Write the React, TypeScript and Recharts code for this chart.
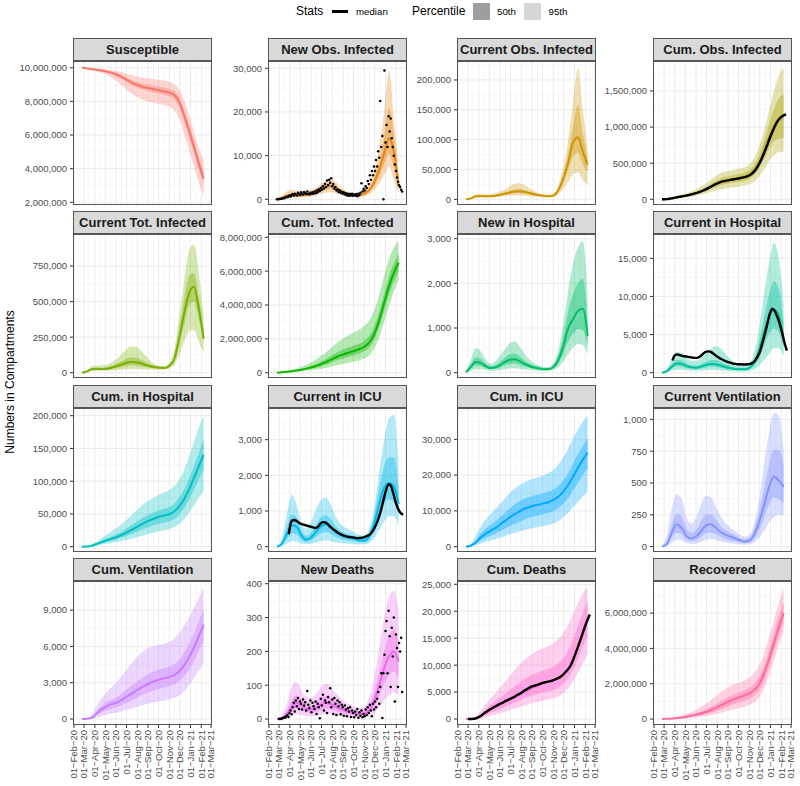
import React from "react";
import { ComposedChart, Area, Line, Scatter, XAxis, YAxis, CartesianGrid } from "recharts";

const FONT = '"Liberation Sans", Arial, Helvetica, sans-serif';
const DAY = 86400000;
const toT = (s: string) => Date.parse(s + "T00:00:00Z");

// model output dates (every two weeks)
const MODEL_DATES = [
  "2020-02-24", "2020-03-09", "2020-03-23", "2020-04-06", "2020-04-20", "2020-05-04", "2020-05-18",
  "2020-06-01", "2020-06-15", "2020-06-29", "2020-07-13", "2020-07-27", "2020-08-10", "2020-08-24",
  "2020-09-07", "2020-09-21", "2020-10-05", "2020-10-19", "2020-11-02", "2020-11-16", "2020-11-30",
  "2020-12-14", "2020-12-28", "2021-01-11", "2021-01-25", "2021-02-08",
];

const MONTH_TICKS = [
  "2020-02-01", "2020-03-01", "2020-04-01", "2020-05-01", "2020-06-01", "2020-07-01", "2020-08-01",
  "2020-09-01", "2020-10-01", "2020-11-01", "2020-12-01", "2021-01-01", "2021-02-01", "2021-03-01",
];
const MONTH_NAMES = ["Jan", "Feb", "Mar", "Apr", "May", "Jun", "Jul", "Aug", "Sep", "Oct", "Nov", "Dec"];

// ---- Susceptible
const SUS_MED = [10.0e6, 9.96e6, 9.92e6, 9.88e6, 9.84e6, 9.78e6, 9.70e6, 9.60e6, 9.47e6, 9.31e6, 9.15e6, 9.01e6, 8.91e6, 8.83e6, 8.77e6, 8.71e6, 8.65e6, 8.59e6, 8.52e6, 8.36e6, 7.95e6, 7.15e6, 6.25e6, 5.3e6, 4.3e6, 3.4e6];
const SUS_LO50 = [10.0e6, 9.95e6, 9.90e6, 9.85e6, 9.80e6, 9.73e6, 9.63e6, 9.51e6, 9.36e6, 9.18e6, 9.0e6, 8.84e6, 8.73e6, 8.64e6, 8.57e6, 8.51e6, 8.45e6, 8.38e6, 8.30e6, 8.1e6, 7.65e6, 6.8e6, 5.88e6, 4.93e6, 3.95e6, 3.1e6];
const SUS_HI50 = [10.0e6, 9.97e6, 9.94e6, 9.91e6, 9.88e6, 9.83e6, 9.77e6, 9.69e6, 9.58e6, 9.44e6, 9.3e6, 9.18e6, 9.09e6, 9.02e6, 8.97e6, 8.91e6, 8.85e6, 8.8e6, 8.74e6, 8.6e6, 8.25e6, 7.5e6, 6.62e6, 5.68e6, 4.68e6, 3.8e6];
const SUS_LO95 = [9.99e6, 9.93e6, 9.86e6, 9.78e6, 9.7e6, 9.58e6, 9.42e6, 9.22e6, 8.99e6, 8.74e6, 8.5e6, 8.3e6, 8.15e6, 8.04e6, 7.96e6, 7.9e6, 7.84e6, 7.77e6, 7.68e6, 7.45e6, 6.95e6, 6.05e6, 5.1e6, 4.1e6, 3.15e6, 2.4e6];
const SUS_HI95 = [10.0e6, 9.99e6, 9.97e6, 9.95e6, 9.93e6, 9.9e6, 9.86e6, 9.81e6, 9.74e6, 9.66e6, 9.57e6, 9.5e6, 9.44e6, 9.39e6, 9.35e6, 9.31e6, 9.27e6, 9.22e6, 9.15e6, 9.0e6, 8.7e6, 8.05e6, 7.2e6, 6.2e6, 5.2e6, 4.5e6];

// ---- New Obs. Infected
const NOI_MED = [50, 300, 800, 1000, 900, 900, 1000, 1200, 1600, 2200, 2800, 3100, 2600, 1800, 1300, 1000, 900, 950, 1300, 2200, 4000, 6800, 10500, 14000, 11000, 3000];
const NOI_LO50 = [30, 200, 550, 700, 650, 650, 750, 900, 1250, 1700, 2200, 2400, 2000, 1450, 1050, 800, 720, 750, 1000, 1700, 3100, 5200, 8000, 10500, 7500, 2200];
const NOI_HI50 = [70, 450, 1100, 1400, 1250, 1150, 1250, 1500, 2000, 2700, 3400, 3700, 3100, 2200, 1600, 1250, 1100, 1200, 1700, 2800, 5000, 8500, 14000, 21000, 15000, 4500];
const NOI_LO95 = [0, 100, 300, 400, 400, 450, 550, 650, 850, 1200, 1500, 1700, 1400, 1000, 750, 600, 550, 550, 700, 1200, 2200, 3600, 5500, 7500, 4500, 1300];
const NOI_HI95 = [100, 800, 1800, 2200, 2000, 1800, 1900, 2200, 2700, 3500, 4300, 4600, 4000, 2900, 2100, 1600, 1400, 1600, 2400, 3500, 6500, 12000, 20000, 29500, 19000, 6000];
// observed daily cases, every third day from 2020-02-24
const NOI_OBS = [
  0, 20, 50, 80, 150, 200, 300, 250, 450, 600,
  500, 700, 900, 650, 1000, 1200, 800, 1300, 1100, 900,
  1500, 1200, 1000, 1600, 1300, 1100, 1700, 1400, 1200, 1800,
  1300, 1100, 1500, 1250, 1600, 1300, 1800, 1400, 2000, 1600,
  2300, 1900, 2600, 2200, 3000, 2500, 3500, 2800, 4300, 3300,
  4500, 3800, 4800, 3000, 3500, 2400, 2800, 2000, 2300, 1700,
  2100, 1500, 1800, 1300, 1600, 1100, 1400, 900, 1300, 800,
  1200, 900, 1300, 800, 1100, 900, 1200, 700, 1300, 1000,
  1500, 3700, 1800, 2400, 2000, 3000, 2600, 4200, 3500, 5500,
  4500, 6500, 5500, 7500, 6500, 9000, 7500, 11000, 9500, 22500,
  12000, 14500, 0, 29500, 13000, 17000, 12000, 19000, 15500, 18500,
  14000, 12000, 10000, 8000, 6500, 5000, 4000, 3200, 2800, 2200,
  1800,
];

// ---- Current Obs. Infected
const COI_MED = [0, 1500, 5000, 5500, 5000, 5200, 6000, 7500, 9500, 11500, 13000, 13500, 12500, 10500, 8500, 7000, 5800, 5000, 6500, 16000, 35000, 62000, 95000, 104000, 80000, 58000];
const COI_LO50 = [0, 1200, 4000, 4500, 4100, 4200, 4800, 6000, 7600, 9000, 10000, 10200, 9500, 8200, 6800, 5700, 4800, 4200, 5300, 13000, 28000, 50000, 72000, 78000, 58000, 45000];
const COI_HI50 = [0, 1800, 6000, 6500, 6000, 6300, 7300, 9200, 11800, 14500, 16500, 17000, 15500, 13000, 10500, 8600, 7000, 6000, 7800, 19000, 42000, 76000, 122000, 158000, 110000, 70000];
const COI_LO95 = [0, 700, 2800, 3200, 3000, 3100, 3500, 4300, 5200, 6000, 6500, 6500, 6000, 5000, 4300, 3700, 3300, 3000, 3800, 9000, 18000, 30000, 42000, 45000, 32000, 25000];
const COI_HI95 = [0, 2500, 8000, 8500, 8000, 8500, 10000, 13000, 17000, 22000, 26000, 27000, 24000, 19000, 14000, 10500, 8500, 7500, 10000, 25000, 55000, 100000, 165000, 220000, 150000, 85000];

// ---- Cum. Obs. Infected
const CUI_MED = [0, 5000, 15000, 28000, 40000, 52000, 68000, 88000, 110000, 140000, 175000, 210000, 238000, 258000, 272000, 285000, 298000, 315000, 345000, 410000, 520000, 680000, 860000, 1010000, 1110000, 1160000];
const CUI_LO50 = [0, 4000, 12000, 22000, 32000, 42000, 55000, 71000, 89000, 113000, 141000, 170000, 193000, 209000, 221000, 232000, 243000, 258000, 285000, 340000, 430000, 560000, 700000, 800000, 840000, 850000];
const CUI_HI50 = [0, 6000, 19000, 34000, 49000, 64000, 83000, 107000, 134000, 170000, 212000, 254000, 288000, 311000, 326000, 339000, 352000, 372000, 408000, 485000, 620000, 810000, 1040000, 1250000, 1400000, 1450000];
const CUI_LO95 = [0, 2500, 8000, 15000, 22000, 29000, 38000, 50000, 63000, 80000, 100000, 120000, 138000, 150000, 160000, 168000, 177000, 190000, 210000, 250000, 320000, 420000, 530000, 610000, 650000, 660000];
const CUI_HI95 = [0, 8000, 25000, 45000, 65000, 85000, 110000, 140000, 175000, 220000, 270000, 320000, 360000, 385000, 400000, 412000, 425000, 445000, 490000, 580000, 740000, 960000, 1230000, 1500000, 1720000, 1810000];
// observed, weekly from 2020-02-24
const CUI_OBS = [
  0, 1000, 3000, 7000, 13000, 20000, 27000, 33000, 39000, 45000,
  51000, 58000, 66000, 75000, 85000, 96000, 108000, 122000, 137000, 154000,
  173000, 192000, 210000, 225000, 237000, 247000, 255000, 262000, 268000, 274000,
  280000, 286000, 292000, 299000, 307000, 318000, 333000, 355000, 390000, 435000,
  495000, 565000, 645000, 730000, 820000, 905000, 985000, 1055000, 1105000, 1140000,
  1162000, 1175000,
];

// ---- Current Tot. Infected
const CTI_MED = [0, 8000, 25000, 27000, 26000, 28000, 35000, 45000, 57000, 68000, 75000, 74000, 66000, 55000, 45000, 38000, 34000, 33000, 50000, 100000, 250000, 420000, 560000, 605000, 450000, 240000];
const CTI_LO50 = [0, 6000, 19000, 21000, 20000, 21000, 25000, 31000, 38000, 45000, 50000, 50000, 46000, 40000, 35000, 31000, 29000, 28000, 42000, 80000, 200000, 340000, 470000, 500000, 380000, 210000];
const CTI_HI50 = [0, 10000, 32000, 35000, 34000, 37000, 47000, 62000, 80000, 97000, 108000, 106000, 93000, 75000, 59000, 48000, 41000, 39000, 60000, 125000, 310000, 520000, 680000, 700000, 530000, 300000];
const CTI_LO95 = [0, 4000, 12000, 13000, 13000, 14000, 16000, 18000, 21000, 24000, 26000, 26000, 25000, 23000, 22000, 21000, 21000, 22000, 30000, 55000, 130000, 220000, 290000, 300000, 220000, 140000];
const CTI_HI95 = [0, 15000, 45000, 50000, 50000, 55000, 70000, 95000, 125000, 160000, 185000, 185000, 160000, 120000, 85000, 60000, 48000, 45000, 75000, 170000, 400000, 650000, 860000, 900000, 700000, 400000];

// ---- Cum. Tot. Infected
const CTO_MED = [0, 0.02e6, 0.05e6, 0.09e6, 0.13e6, 0.18e6, 0.24e6, 0.31e6, 0.4e6, 0.5e6, 0.62e6, 0.76e6, 0.9e6, 1.02e6, 1.12e6, 1.21e6, 1.3e6, 1.4e6, 1.55e6, 1.8e6, 2.3e6, 3.1e6, 4.1e6, 5.1e6, 5.9e6, 6.5e6];
const CTO_LO50 = [0, 0.015e6, 0.04e6, 0.07e6, 0.1e6, 0.14e6, 0.18e6, 0.23e6, 0.3e6, 0.38e6, 0.47e6, 0.58e6, 0.7e6, 0.8e6, 0.89e6, 0.97e6, 1.05e6, 1.14e6, 1.28e6, 1.5e6, 1.95e6, 2.7e6, 3.65e6, 4.6e6, 5.4e6, 6.0e6];
const CTO_HI50 = [0, 0.03e6, 0.07e6, 0.12e6, 0.17e6, 0.23e6, 0.31e6, 0.41e6, 0.52e6, 0.65e6, 0.8e6, 0.98e6, 1.15e6, 1.3e6, 1.42e6, 1.52e6, 1.62e6, 1.73e6, 1.9e6, 2.2e6, 2.75e6, 3.6e6, 4.65e6, 5.65e6, 6.45e6, 7.0e6];
const CTO_LO95 = [0, 0.01e6, 0.02e6, 0.04e6, 0.06e6, 0.08e6, 0.11e6, 0.14e6, 0.18e6, 0.22e6, 0.28e6, 0.35e6, 0.42e6, 0.49e6, 0.55e6, 0.61e6, 0.67e6, 0.74e6, 0.85e6, 1.05e6, 1.45e6, 2.1e6, 3.0e6, 3.9e6, 4.8e6, 5.5e6];
const CTO_HI95 = [0, 0.04e6, 0.1e6, 0.17e6, 0.25e6, 0.35e6, 0.47e6, 0.61e6, 0.78e6, 0.97e6, 1.2e6, 1.45e6, 1.7e6, 1.92e6, 2.1e6, 2.25e6, 2.4e6, 2.56e6, 2.78e6, 3.1e6, 3.7e6, 4.6e6, 5.7e6, 6.7e6, 7.4e6, 7.8e6];

// ---- New in Hospital
const NHO_MED = [10, 130, 240, 220, 150, 105, 120, 170, 240, 290, 300, 260, 200, 150, 115, 95, 80, 80, 130, 290, 600, 1000, 1200, 1380, 1430, 820];
const NHO_LO50 = [5, 90, 160, 150, 105, 75, 82, 115, 165, 195, 205, 180, 140, 110, 85, 70, 60, 60, 100, 215, 430, 700, 870, 980, 950, 600];
const NHO_HI50 = [15, 190, 340, 310, 210, 145, 165, 240, 340, 410, 430, 370, 280, 205, 155, 125, 105, 105, 175, 400, 820, 1380, 1750, 2000, 2100, 1150];
const NHO_LO95 = [0, 40, 80, 80, 60, 45, 45, 60, 80, 95, 100, 90, 75, 60, 50, 45, 40, 40, 60, 130, 250, 420, 560, 640, 620, 400];
const NHO_HI95 = [20, 300, 550, 480, 300, 200, 250, 380, 530, 660, 700, 590, 430, 300, 210, 160, 130, 130, 220, 520, 1100, 1850, 2450, 2800, 2950, 1700];

// ---- Current in Hospital
const CHO_MED = [0, 200, 800, 1200, 1150, 900, 700, 650, 800, 1000, 1150, 1100, 950, 750, 600, 500, 450, 450, 650, 1400, 3000, 5300, 7400, 8300, 7500, 4500];
const CHO_LO50 = [0, 130, 530, 800, 780, 610, 480, 450, 540, 670, 780, 740, 640, 510, 410, 340, 310, 310, 450, 950, 2000, 3600, 5100, 5800, 5300, 3200];
const CHO_HI50 = [0, 280, 1100, 1650, 1600, 1250, 980, 920, 1120, 1420, 1650, 1650, 1450, 1150, 900, 730, 650, 630, 880, 1900, 4100, 7300, 10300, 12000, 11000, 6500];
const CHO_LO95 = [0, 60, 250, 400, 400, 320, 260, 240, 280, 330, 370, 350, 300, 250, 200, 170, 150, 150, 220, 450, 950, 1700, 2500, 3200, 3200, 2200];
const CHO_HI95 = [0, 450, 1800, 2700, 2600, 2000, 1600, 1550, 1900, 2500, 3100, 3500, 3200, 2500, 1800, 1300, 1050, 950, 1300, 2800, 6000, 10500, 14500, 17000, 15000, 9000];
// observed, weekly from 2020-03-25
const CHO_OBS = [
  1600, 2300, 2400, 2300, 2200, 2150, 2100, 2050, 2000, 1950,
  1950, 2050, 2300, 2600, 2750, 2800, 2700, 2450, 2200, 2000,
  1800, 1650, 1500, 1400, 1300, 1200, 1150, 1100, 1100, 1080,
  1080, 1100, 1150, 1300, 1600, 2100, 2800, 3900, 5100, 6400,
  7700, 8400, 8100, 7400, 6500, 5300, 4000, 2900,
];

// ---- Cum. in Hospital
const CUH_MED = [0, 300, 1500, 4000, 7000, 9500, 12000, 14500, 17500, 21000, 25000, 29000, 33000, 37000, 40500, 43500, 46000, 48000, 50000, 54000, 62000, 73000, 88000, 105000, 123000, 140000];
const CUH_LO50 = [0, 200, 1100, 3000, 5200, 7200, 9000, 11000, 13500, 16000, 19000, 22000, 25000, 28000, 31000, 33500, 35500, 37000, 39000, 42000, 49000, 59000, 72000, 87000, 103000, 117000];
const CUH_HI50 = [0, 400, 2000, 5200, 9000, 12500, 15500, 18500, 22500, 27000, 32000, 37000, 42000, 46500, 50000, 53000, 56000, 58500, 61000, 66000, 75000, 88000, 104000, 123000, 143000, 165000];
const CUH_LO95 = [0, 100, 600, 1800, 3200, 4500, 5800, 7000, 8500, 10000, 12000, 14000, 16000, 18000, 20000, 22000, 24000, 25500, 27000, 30000, 35000, 42000, 52000, 63000, 75000, 86000];
const CUH_HI95 = [0, 600, 3000, 7500, 13000, 18000, 23000, 28000, 34000, 40000, 47000, 54000, 61000, 67000, 72000, 76000, 80000, 83000, 87000, 93000, 103000, 118000, 138000, 160000, 182000, 200000];

// ---- Current in ICU
const CIC_MED = [0, 80, 350, 600, 560, 320, 200, 260, 420, 570, 630, 560, 420, 330, 280, 250, 220, 170, 170, 300, 650, 1200, 1650, 1780, 1700, 1200];
const CIC_LO50 = [0, 50, 220, 380, 350, 200, 130, 170, 280, 380, 420, 370, 280, 225, 190, 170, 150, 115, 115, 200, 450, 850, 1200, 1320, 1250, 880];
const CIC_HI50 = [5, 130, 550, 900, 820, 470, 300, 390, 620, 820, 880, 780, 580, 450, 380, 340, 300, 240, 230, 420, 900, 1650, 2250, 2500, 2500, 1650];
const CIC_LO95 = [0, 20, 80, 150, 140, 90, 70, 80, 120, 160, 180, 160, 120, 100, 90, 80, 70, 60, 65, 110, 250, 480, 700, 850, 850, 600];
const CIC_HI95 = [10, 250, 900, 1450, 1200, 650, 500, 700, 1050, 1300, 1380, 1200, 850, 650, 540, 470, 400, 330, 320, 520, 1100, 2100, 3000, 3600, 3700, 2300];
// observed, weekly from 2020-03-29
const CIC_OBS = [
  350, 700, 750, 730, 680, 640, 620, 600, 580, 560,
  540, 520, 560, 650, 690, 680, 630, 560, 500, 450,
  400, 360, 330, 300, 280, 270, 260, 255, 240, 245,
  250, 270, 300, 330, 400, 500, 640, 820, 1060, 1340,
  1600, 1750, 1700, 1480, 1230, 1050, 940, 900,
];

// ---- Cum. in ICU
const CUC_MED = [0, 300, 1200, 2600, 3600, 4400, 5200, 6200, 7200, 8200, 9100, 9900, 10600, 11100, 11500, 11800, 12100, 12500, 13100, 14000, 15400, 17300, 19600, 22000, 24300, 26300];
const CUC_LO50 = [0, 200, 800, 1700, 2400, 3000, 3600, 4300, 5000, 5700, 6400, 7000, 7600, 8100, 8500, 8800, 9100, 9500, 10000, 10800, 12000, 13600, 15700, 17900, 20000, 21800];
const CUC_HI50 = [0, 450, 1800, 3700, 5000, 6100, 7100, 8300, 9500, 10700, 11800, 12700, 13400, 13900, 14300, 14600, 15000, 15400, 16000, 17000, 18600, 20600, 23200, 25800, 28200, 30200];
const CUC_LO95 = [0, 100, 400, 900, 1300, 1700, 2100, 2500, 3000, 3500, 3900, 4300, 4700, 5000, 5300, 5500, 5800, 6100, 6500, 7200, 8200, 9500, 11000, 12500, 14000, 15500];
const CUC_HI95 = [0, 800, 3000, 5500, 7500, 9000, 10500, 12000, 13500, 15000, 16200, 17200, 18000, 18600, 19100, 19500, 20000, 20600, 21500, 23000, 25000, 27500, 30200, 32800, 35000, 36600];

// ---- Current Ventilation
const CVE_MED = [0, 20, 110, 175, 150, 85, 65, 80, 120, 165, 175, 150, 115, 95, 80, 65, 50, 40, 50, 100, 200, 330, 470, 550, 520, 470];
const CVE_LO50 = [0, 12, 70, 110, 100, 55, 42, 50, 75, 105, 112, 98, 75, 60, 50, 42, 33, 27, 32, 65, 135, 230, 330, 390, 370, 340];
const CVE_HI50 = [2, 40, 170, 260, 240, 140, 110, 130, 200, 250, 255, 220, 165, 130, 110, 90, 70, 58, 70, 140, 280, 460, 650, 760, 760, 640];
const CVE_LO95 = [0, 5, 30, 55, 50, 30, 22, 25, 38, 55, 60, 52, 40, 32, 27, 22, 18, 15, 18, 35, 70, 130, 190, 230, 250, 240];
const CVE_HI95 = [5, 90, 300, 410, 380, 230, 180, 230, 330, 400, 390, 320, 240, 190, 150, 120, 95, 80, 95, 190, 380, 650, 900, 1050, 1030, 750];

// ---- Cum. Ventilation
const CUV_MED = [0, 20, 100, 450, 800, 1050, 1220, 1350, 1550, 1800, 2050, 2300, 2550, 2780, 2980, 3150, 3280, 3380, 3480, 3650, 3950, 4450, 5100, 5900, 6850, 7800];
const CUV_LO50 = [0, 10, 60, 290, 540, 730, 860, 960, 1110, 1310, 1500, 1700, 1900, 2080, 2250, 2400, 2520, 2620, 2720, 2870, 3130, 3560, 4100, 4800, 5650, 6500];
const CUV_HI50 = [0, 40, 180, 650, 1100, 1400, 1600, 1780, 2050, 2350, 2700, 3000, 3300, 3550, 3780, 3970, 4120, 4230, 4350, 4550, 4900, 5500, 6250, 7100, 8100, 9000];
const CUV_LO95 = [0, 0, 20, 120, 250, 360, 450, 520, 620, 730, 850, 970, 1090, 1200, 1300, 1400, 1480, 1550, 1630, 1750, 1950, 2300, 2800, 3400, 4000, 4600];
const CUV_HI95 = [0, 80, 400, 1100, 1700, 2200, 2600, 3000, 3500, 4000, 4500, 5000, 5400, 5750, 5950, 6050, 6150, 6250, 6400, 6700, 7100, 7700, 8400, 9200, 10000, 10800];

// ---- New Deaths
const NDE_MED = [0, 3, 15, 35, 48, 40, 30, 28, 33, 42, 48, 45, 37, 30, 24, 20, 17, 15, 17, 28, 55, 100, 150, 185, 200, 170];
const NDE_LO50 = [0, 1, 9, 22, 30, 26, 19, 18, 21, 27, 31, 29, 24, 19, 15, 13, 11, 10, 11, 18, 36, 68, 105, 130, 140, 120];
const NDE_HI50 = [0, 5, 25, 55, 70, 58, 44, 41, 49, 62, 69, 64, 54, 44, 35, 29, 25, 23, 26, 43, 82, 140, 200, 245, 265, 230];
const NDE_LO95 = [0, 0, 3, 10, 15, 12, 9, 8, 10, 13, 15, 14, 11, 9, 7, 6, 5, 4, 5, 9, 18, 35, 55, 70, 80, 70];
const NDE_HI95 = [1, 10, 45, 95, 110, 85, 65, 62, 75, 95, 105, 95, 78, 62, 50, 42, 36, 33, 38, 65, 125, 210, 300, 360, 380, 320];
// observed daily deaths, every third day from 2020-03-01
const NDE_OBS = [
  0, 1, 0, 2, 3, 5, 4, 8, 12, 6,
  18, 25, 14, 35, 48, 22, 55, 38, 62, 30,
  52, 45, 28, 58, 40, 50, 25, 83, 42, 33,
  55, 20, 48, 38, 30, 52, 15, 45, 35, 2,
  60, 40, 72, 25, 55, 48, 18, 65, 50, 91,
  35, 58, 15, 62, 45, 12, 55, 38, 50, 14,
  42, 35, 10, 40, 28, 8, 32, 22, 35, 6,
  25, 18, 5, 22, 12, 30, 4, 20, 10, 25,
  5, 15, 8, 28, 12, 35, 18, 42, 25, 8,
  45, 28, 52, 35, 60, 80, 45, 95, 135, 3,
  135, 190, 260, 290, 135, 320, 245, 95, 270, 185,
  300, 52, 250, 210, 95, 225, 200, 240, 80,
];

// ---- Cum. Deaths
const CDE_MED = [0, 20, 150, 600, 1200, 1750, 2250, 2700, 3150, 3600, 4100, 4550, 5000, 5500, 5950, 6350, 6700, 7000, 7250, 7700, 8300, 9300, 11000, 13400, 16100, 18900];
const CDE_LO50 = [0, 8, 80, 350, 750, 1150, 1550, 1900, 2250, 2650, 3050, 3450, 3850, 4200, 4500, 4750, 4950, 5150, 5400, 5800, 6500, 7600, 9200, 11200, 13400, 15500];
const CDE_HI50 = [0, 35, 250, 950, 1800, 2600, 3300, 4000, 4700, 5400, 6100, 6800, 7400, 7950, 8400, 8750, 9050, 9350, 9750, 10350, 11300, 12800, 14800, 17200, 19700, 22000];
const CDE_LO95 = [0, 0, 30, 150, 350, 600, 850, 1100, 1350, 1650, 1950, 2250, 2550, 2800, 3050, 3250, 3450, 3650, 3850, 4200, 4800, 5700, 7000, 8600, 10300, 12000];
const CDE_HI95 = [0, 60, 450, 1500, 2700, 3800, 4800, 5800, 6900, 8000, 9100, 10100, 11000, 11700, 12300, 12800, 13200, 13600, 14100, 14900, 16000, 17600, 19500, 21500, 23300, 24500];
// observed, weekly from 2020-03-01
const CDE_OBS = [
  0, 0, 30, 100, 250, 500, 850, 1200, 1500, 1800,
  2050, 2300, 2550, 2800, 3000, 3250, 3450, 3700, 3900, 4100,
  4400, 4650, 4900, 5250, 5500, 5750, 6000, 6150, 6300, 6450,
  6600, 6750, 6850, 6950, 7050, 7200, 7400, 7600, 7850, 8200,
  8700, 9200, 9800, 10800, 12000, 13200, 14500, 15800, 17100, 18300,
  19400,
];

// ---- Recovered
const REC_MED = [0, 0.01e6, 0.03e6, 0.06e6, 0.09e6, 0.13e6, 0.18e6, 0.24e6, 0.31e6, 0.4e6, 0.5e6, 0.62e6, 0.76e6, 0.9e6, 1.03e6, 1.14e6, 1.24e6, 1.34e6, 1.46e6, 1.65e6, 2.0e6, 2.6e6, 3.4e6, 4.3e6, 5.2e6, 6.0e6];
const REC_LO50 = [0, 0.007e6, 0.02e6, 0.045e6, 0.065e6, 0.095e6, 0.13e6, 0.17e6, 0.22e6, 0.28e6, 0.35e6, 0.44e6, 0.54e6, 0.65e6, 0.76e6, 0.86e6, 0.95e6, 1.05e6, 1.16e6, 1.34e6, 1.65e6, 2.2e6, 2.95e6, 3.85e6, 4.7e6, 5.5e6];
const REC_HI50 = [0, 0.013e6, 0.04e6, 0.08e6, 0.125e6, 0.18e6, 0.24e6, 0.32e6, 0.42e6, 0.54e6, 0.68e6, 0.83e6, 1.0e6, 1.16e6, 1.3e6, 1.42e6, 1.52e6, 1.63e6, 1.78e6, 2.0e6, 2.42e6, 3.05e6, 3.9e6, 4.85e6, 5.85e6, 6.6e6];
const REC_LO95 = [0, 0.005e6, 0.01e6, 0.02e6, 0.035e6, 0.05e6, 0.07e6, 0.1e6, 0.13e6, 0.17e6, 0.22e6, 0.28e6, 0.35e6, 0.43e6, 0.5e6, 0.57e6, 0.63e6, 0.7e6, 0.8e6, 0.95e6, 1.25e6, 1.75e6, 2.45e6, 3.3e6, 4.2e6, 5.0e6];
const REC_HI95 = [0, 0.02e6, 0.06e6, 0.12e6, 0.19e6, 0.28e6, 0.39e6, 0.52e6, 0.68e6, 0.86e6, 1.06e6, 1.28e6, 1.5e6, 1.7e6, 1.86e6, 1.98e6, 2.08e6, 2.2e6, 2.36e6, 2.62e6, 3.05e6, 3.75e6, 4.65e6, 5.6e6, 6.6e6, 7.4e6];

// ---------------------------------------------------------------------------

const series = (start: string, stepDays: number, values: number[]) =>
  values.map((v, i) => ({ t: toT(start) + i * stepDays * DAY, v }));

type PanelDef = {
  title: string;
  color: string;
  domain: [number, number];
  ticks: number[];
  q: number[][]; // med, lo50, hi50, lo95, hi95
  obsLine?: { t: number; v: number }[];
  obsDots?: { t: number; v: number }[];
};

const PANELS: PanelDef[] = [
  { title: "Susceptible", color: "#F8766D", domain: [1.84e6, 10.4e6], ticks: [2e6, 4e6, 6e6, 8e6, 10e6], q: [SUS_MED, SUS_LO50, SUS_HI50, SUS_LO95, SUS_HI95] },
  { title: "New Obs. Infected", color: "#E68613", domain: [-1300, 31670], ticks: [0, 10000, 20000, 30000], q: [NOI_MED, NOI_LO50, NOI_HI50, NOI_LO95, NOI_HI95], obsDots: series("2020-02-24", 3, NOI_OBS) },
  { title: "Current Obs. Infected", color: "#CD9600", domain: [-9550, 231800], ticks: [0, 50000, 100000, 150000, 200000], q: [COI_MED, COI_LO50, COI_HI50, COI_LO95, COI_HI95] },
  { title: "Cum. Obs. Infected", color: "#ABA300", domain: [-79000, 1915000], ticks: [0, 500000, 1000000, 1500000], q: [CUI_MED, CUI_LO50, CUI_HI50, CUI_LO95, CUI_HI95], obsLine: series("2020-02-24", 7, CUI_OBS) },
  { title: "Current Tot. Infected", color: "#7CAE00", domain: [-37300, 975000], ticks: [0, 250000, 500000, 750000], q: [CTI_MED, CTI_LO50, CTI_HI50, CTI_LO95, CTI_HI95] },
  { title: "Cum. Tot. Infected", color: "#0CB702", domain: [-313000, 8195000], ticks: [0, 2e6, 4e6, 6e6, 8e6], q: [CTO_MED, CTO_LO50, CTO_HI50, CTO_LO95, CTO_HI95] },
  { title: "New in Hospital", color: "#00BE67", domain: [-119, 3105], ticks: [0, 1000, 2000, 3000], q: [NHO_MED, NHO_LO50, NHO_HI50, NHO_LO95, NHO_HI95] },
  { title: "Current in Hospital", color: "#00C19A", domain: [-695, 18186], ticks: [0, 5000, 10000, 15000], q: [CHO_MED, CHO_LO50, CHO_HI50, CHO_LO95, CHO_HI95], obsLine: series("2020-03-25", 7, CHO_OBS) },
  { title: "Cum. in Hospital", color: "#00BFC4", domain: [-8100, 211800], ticks: [0, 50000, 100000, 150000, 200000], q: [CUH_MED, CUH_LO50, CUH_HI50, CUH_LO95, CUH_HI95] },
  { title: "Current in ICU", color: "#00B8E7", domain: [-149, 3889], ticks: [0, 1000, 2000, 3000], q: [CIC_MED, CIC_LO50, CIC_HI50, CIC_LO95, CIC_HI95], obsLine: series("2020-03-29", 7, CIC_OBS) },
  { title: "Cum. in ICU", color: "#00A9FF", domain: [-1480, 38743], ticks: [0, 10000, 20000, 30000], q: [CUC_MED, CUC_LO50, CUC_HI50, CUC_LO95, CUC_HI95] },
  { title: "Current Ventilation", color: "#8494FF", domain: [-42, 1089], ticks: [0, 250, 500, 750, 1000], q: [CVE_MED, CVE_LO50, CVE_HI50, CVE_LO95, CVE_HI95] },
  { title: "Cum. Ventilation", color: "#C77CFF", domain: [-492, 11404], ticks: [0, 3000, 6000, 9000], q: [CUV_MED, CUV_LO50, CUV_HI50, CUV_LO95, CUV_HI95] },
  { title: "New Deaths", color: "#ED68ED", domain: [-17.6, 408], ticks: [0, 100, 200, 300, 400], q: [NDE_MED, NDE_LO50, NDE_HI50, NDE_LO95, NDE_HI95], obsDots: series("2020-03-01", 3, NDE_OBS) },
  { title: "Cum. Deaths", color: "#FF61CC", domain: [-1105, 25608], ticks: [0, 5000, 10000, 15000, 20000, 25000], q: [CDE_MED, CDE_LO50, CDE_HI50, CDE_LO95, CDE_HI95], obsLine: series("2020-03-01", 7, CDE_OBS) },
  { title: "Recovered", color: "#FF68A1", domain: [-337500, 7817000], ticks: [0, 2e6, 4e6, 6e6], q: [REC_MED, REC_LO50, REC_HI50, REC_LO95, REC_HI95] },
];

// layout
const COL_LEFT = [73, 268, 457, 653];
const ROW_TOP = [61, 234, 408, 581];
const PLOT_W = 139;
const PLOT_H = 144;
const STRIP_H = 23;
const YAXIS_W = 72;
const XAXIS_H = 62;
const PAD = 8; // room around the plot so edge labels are not clipped

const X_TICKS = MONTH_TICKS.map(toT);
const X_MINOR = X_TICKS.slice(1).map((t, i) => (t + X_TICKS[i]) / 2);
const X_DOMAIN: [number, number] = [toT("2020-02-01") - 2.9 * DAY, toT("2021-03-01") + 2.9 * DAY];

const fmtNum = (v: number) => v.toLocaleString("en-US");
const fmtDate = (t: number) => {
  const d = new Date(t);
  return `${String(d.getUTCDate()).padStart(2, "0")}\u2212${MONTH_NAMES[d.getUTCMonth()]}\u2212${String(d.getUTCFullYear()).slice(2)}`;
};

const minorOf = (ticks: number[], lo: number, hi: number) => {
  const step = ticks[1] - ticks[0];
  const out: number[] = [];
  for (let v = ticks[0] - step / 2; v <= ticks[ticks.length - 1] + step / 2 + 1e-9; v += step) {
    if (v > lo && v < hi) out.push(v);
  }
  return out;
};

const DateTick = (props: any) => {
  const { x, y, payload } = props;
  return (
    <text
      transform={`translate(${x},${y}) rotate(-90)`}
      x={0}
      y={3.3}
      textAnchor="end"
      fontSize={9.5}
      fill="#4D4D4D"
      fontFamily={FONT}
    >
      {fmtDate(payload.value)}
    </text>
  );
};

const Dot = (props: any) => <circle cx={props.cx} cy={props.cy} r={1.25} fill="#000" />;

function Panel({ p, idx }: { p: PanelDef; idx: number }) {
  const col = idx % 4;
  const row = Math.floor(idx / 4);
  const left = COL_LEFT[col];
  const top = ROW_TOP[row];
  const isBottom = row === 3;
  const W = PLOT_W + YAXIS_W + PAD;
  const H = PLOT_H + PAD + (isBottom ? XAXIS_H : PAD);
  const [med, lo50, hi50, lo95, hi95] = p.q;
  const model = MODEL_DATES.map((d, i) => ({
    t: toT(d),
    med: med[i],
    b50: [lo50[i], hi50[i]],
    b95: [lo95[i], hi95[i]],
  }));
  const yMinor = minorOf(p.ticks, p.domain[0], p.domain[1]);

  return (
    <>
      <div
        style={{
          position: "absolute",
          left,
          top: top - STRIP_H,
          width: PLOT_W,
          height: STRIP_H,
          boxSizing: "border-box",
          background: "#D9D9D9",
          border: "1px solid #555",
          display: "flex",
          alignItems: "center",
          justifyContent: "center",
          fontFamily: FONT,
          fontWeight: "bold",
          fontSize: 13,
          color: "#1A1A1A",
          whiteSpace: "nowrap",
        }}
      >
        {p.title}
      </div>
      <div style={{ position: "absolute", left: left - YAXIS_W, top: top - PAD, width: W, height: H }}>
        <ComposedChart
          width={W}
          height={H}
          margin={{ top: PAD, right: PAD, bottom: isBottom ? 0 : PAD, left: 0 }}
        >
          <CartesianGrid stroke="#F2F2F2" strokeWidth={0.6} horizontalValues={yMinor} verticalValues={X_MINOR} />
          <CartesianGrid stroke="#EBEBEB" strokeWidth={1} horizontalValues={p.ticks} verticalValues={X_TICKS} />
          <XAxis
            type="number"
            dataKey="t"
            domain={X_DOMAIN}
            ticks={X_TICKS}
            interval={0}
            allowDataOverflow
            hide={!isBottom}
            height={XAXIS_H}
            tick={<DateTick />}
            tickSize={3}
            tickMargin={2}
            tickLine={{ stroke: "#333" }}
            axisLine={false}
          />
          <YAxis
            type="number"
            domain={p.domain}
            ticks={p.ticks}
            interval={0}
            allowDataOverflow
            width={YAXIS_W}
            tickFormatter={fmtNum}
            tick={{ fontSize: 9.5, fill: "#4D4D4D", fontFamily: FONT }}
            tickSize={3}
            tickMargin={3}
            tickLine={{ stroke: "#333" }}
            axisLine={false}
          />
          <Area data={model} dataKey="b95" type="monotone" stroke="none" fill={p.color} fillOpacity={0.3} isAnimationActive={false} />
          <Area data={model} dataKey="b50" type="monotone" stroke="none" fill={p.color} fillOpacity={0.38} isAnimationActive={false} />
          <Line data={model} dataKey="med" type="monotone" stroke={p.color} strokeWidth={2} dot={false} isAnimationActive={false} />
          {p.obsLine && (
            <Line data={p.obsLine} dataKey="v" type="monotone" stroke="#000" strokeWidth={2.4} dot={false} isAnimationActive={false} />
          )}
          {p.obsDots && <Scatter data={p.obsDots} dataKey="v" shape={<Dot />} isAnimationActive={false} />}
        </ComposedChart>
      </div>
      <div
        style={{
          position: "absolute",
          left,
          top,
          width: PLOT_W,
          height: PLOT_H,
          boxSizing: "border-box",
          border: "1px solid #555",
          pointerEvents: "none",
        }}
      />
    </>
  );
}

function Legend() {
  const txt = (left: number, text: string, size: number) => (
    <div style={{ position: "absolute", left, top: 11.5 - size * 0.6, fontSize: size, fontFamily: FONT, color: "#000", whiteSpace: "nowrap", lineHeight: `${size * 1.2}px` }}>
      {text}
    </div>
  );
  return (
    <>
      {txt(296, "Stats", 12)}
      <div style={{ position: "absolute", left: 332, top: 10.3, width: 16, height: 2.5, background: "#000" }} />
      {txt(356, "median", 9.7)}
      {txt(412, "Percentile", 12)}
      <div style={{ position: "absolute", left: 473, top: 3, width: 17, height: 17, background: "#9E9E9E" }} />
      {txt(497, "50th", 9.7)}
      <div style={{ position: "absolute", left: 524, top: 3, width: 17, height: 17, background: "#D6D6D6" }} />
      {txt(548.5, "95th", 9.7)}
    </>
  );
}

export default function App() {
  return (
    <div style={{ position: "absolute", left: 0, top: 0, width: 800, height: 786, background: "#fff", overflow: "hidden" }}>
      <Legend />
      <div
        style={{
          position: "absolute",
          left: 10,
          top: 382,
          transform: "translate(-50%, -50%) rotate(-90deg)",
          fontFamily: FONT,
          fontSize: 12,
          whiteSpace: "nowrap",
          color: "#000",
        }}
      >
        Numbers in Compartments
      </div>
      {PANELS.map((p, i) => (
        <Panel key={p.title} p={p} idx={i} />
      ))}
    </div>
  );
}
